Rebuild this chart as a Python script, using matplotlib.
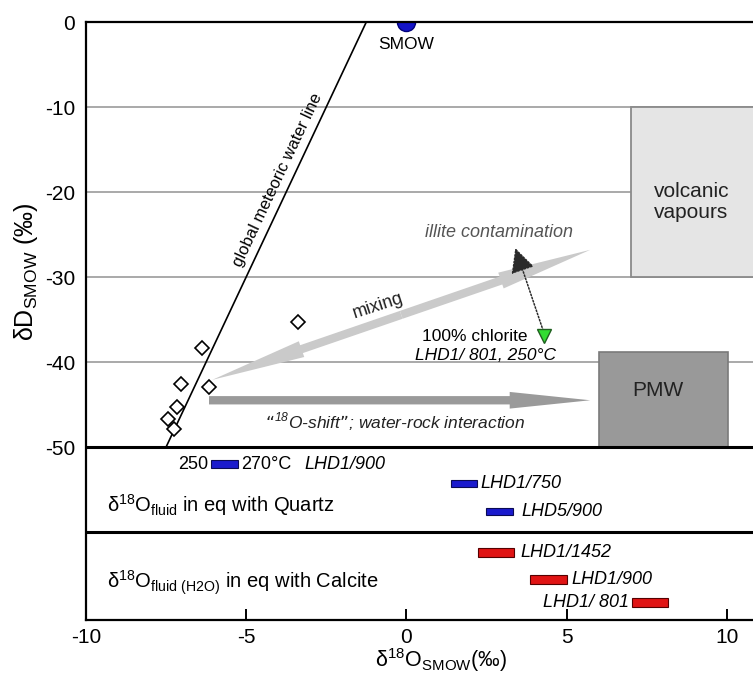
import numpy as np
import matplotlib
matplotlib.use("Agg")
import matplotlib.pyplot as plt
from matplotlib.patches import Rectangle, FancyArrowPatch
from matplotlib import font_manager

# fonts: Arial-like text, narrow face for the panel/axis labels if present
names = {f.name for f in font_manager.fontManager.ttflist}
NARROW = "Liberation Sans Narrow" if "Liberation Sans Narrow" in names else "Liberation Sans"
plt.rcParams["font.family"] = ["Liberation Sans", "DejaVu Sans"]
plt.rcParams["axes.unicode_minus"] = False

# ---- data ----
gmwl_x = [-7.5, -1.25]
gmwl_y = [-50, 0]

sample_x = [-3.37, -6.39, -7.03, -6.15, -7.15, -7.45, -7.25]
sample_y = [-35.3, -38.4, -42.6, -42.9, -45.3, -46.7, -47.9]

smow_x, smow_y = 0.0, 0.0
chlorite_x, chlorite_y = 4.30, -36.9
illite_tip = (3.40, -26.6)

mixing_start = (-6.06, -42.1)
mixing_end = (5.74, -26.8)
shift_start = (-6.16, -44.5)
shift_end = (5.74, -44.5)

volcanic_box = (7.0, -30.0, 4.5, 20.0)   # x, y, width, height
pmw_box = (6.0, -50.0, 4.05, 11.2)

quartz_lo = [-6.10, 1.39, 2.48]
quartz_hi = [-5.25, 2.21, 3.33]
quartz_y = [-52.0, -54.3, -57.6]
quartz_lab = ["LHD1/900", "LHD1/750", "LHD5/900"]

calcite_lo = [2.25, 3.86, 7.05]
calcite_hi = [3.36, 5.01, 8.16]
calcite_y = [-62.4, -65.6, -68.3]
calcite_lab = ["LHD1/1452", "LHD1/900", "LHD1/ 801"]

xticks = [-10, -5, 0, 5, 10]
yticks = [0, -10, -20, -30, -40, -50]

# ---- figure ----
fig = plt.figure(figsize=(7.53, 6.79), dpi=100)
ax = fig.add_axes([86 / 753, 59 / 679, 667 / 753, 598 / 679])
ax.set_xlim(-10, 10.82)
ax.set_ylim(-70.35, 0)

for s in ["left", "top", "bottom"]:
    ax.spines[s].set_linewidth(1.6)
ax.spines["right"].set_visible(False)

ax.set_xticks(xticks)
ax.set_yticks(yticks)
ax.tick_params(axis="x", direction="in", length=8, width=1.4, pad=6, labelsize=15)
ax.tick_params(axis="y", length=0, pad=8, labelsize=15)

# grid + panel separators
for g in yticks[1:-1]:
    ax.axhline(g, color="#a3a3a3", lw=1.3, zorder=0.5)
ax.axhline(-50, color="black", lw=2.2, zorder=3)
ax.axhline(-60, color="black", lw=2.2, zorder=3)

# boxes
vx, vy, vw, vh = volcanic_box
ax.add_patch(Rectangle((vx, vy), vw, vh, fc="#e5e5e5", ec="#8a8a8a", lw=1.3, zorder=1))
ax.text(vx + 1.9, vy + 8.8, "volcanic\nvapours", ha="center", va="center",
        fontsize=15, color="#222222", linespacing=1.1, zorder=2)
px, py, pw, ph = pmw_box
ax.add_patch(Rectangle((px, py), pw, ph, fc="#999999", ec="#7a7a7a", lw=1.2, zorder=1))
ax.text(px + 1.85, py + 6.6, "PMW", ha="center", va="center", fontsize=15,
        color="#222222", zorder=2)

# meteoric water line
ax.plot(gmwl_x, gmwl_y, color="black", lw=1.2, zorder=2)
p0 = ax.transData.transform((gmwl_x[0], gmwl_y[0]))
p1 = ax.transData.transform((gmwl_x[1], gmwl_y[1]))
ang = np.degrees(np.arctan2(p1[1] - p0[1], p1[0] - p0[0]))
ax.text(-4.02, -18.6, "global meteoric water line", rotation=ang, ha="center",
        va="center", fontsize=12, rotation_mode="anchor")

# mixing double arrow (two halves from the middle)
mid = ((mixing_start[0] + mixing_end[0]) / 2, (mixing_start[1] + mixing_end[1]) / 2)
for end in (mixing_start, mixing_end):
    ax.add_patch(FancyArrowPatch(mid, end, arrowstyle="simple,head_width=12,head_length=68,tail_width=6",
                                 mutation_scale=1, fc="#cacaca", ec="none", shrinkA=0, shrinkB=0, zorder=1.5))
ax.text(-0.87, -33.4, "mixing", rotation=18, ha="center", va="center", fontsize=13,
        color="#222222")

# 18O shift arrow
ax.add_patch(FancyArrowPatch(shift_start, shift_end,
                             arrowstyle="simple,head_width=12,head_length=58,tail_width=6",
                             mutation_scale=1, fc="#9a9a9a", ec="none", shrinkA=0, shrinkB=0, zorder=1.5))
ax.text(-0.34, -47.0, r"“$^{\mathregular{18}}$O-shift”; water-rock interaction", ha="center",
        va="center", fontsize=12.5, style="italic", color="#222222")

# samples
ax.plot(sample_x, sample_y, "D", ms=7.5, mfc="white", mec="black", mew=1.2, ls="none", zorder=4)

# SMOW
ax.plot(smow_x, smow_y, "o", ms=13, mfc="#1414c8", mec="#00007a", zorder=2.5, clip_on=True)
ax.text(smow_x, smow_y - 2.6, "SMOW", ha="center", va="center", fontsize=12.5)

# chlorite + illite contamination
ax.annotate("", xy=illite_tip, xytext=(chlorite_x - 0.03, chlorite_y + 0.6),
            arrowprops=dict(arrowstyle="-|>,head_length=0.5,head_width=0.25", ls=(0, (1, 1.2)),
                            lw=1.1, color="#2a2a2a", mutation_scale=30, shrinkA=0, shrinkB=0), zorder=4)
ax.plot(chlorite_x, chlorite_y, "v", ms=10, mfc="#33dd33", mec="#1f5f1f", mew=1, zorder=5)
ax.text(2.9, -24.8, "illite contamination", ha="center", va="center", fontsize=13,
        style="italic", color="#555555")
ax.text(2.15, -37.0, "100% chlorite", ha="center", va="center", fontsize=12.5)
ax.text(2.47, -39.2, "LHD1/ 801, 250°C", ha="center", va="center", fontsize=12.5, style="italic")

# quartz panel
ax.barh(quartz_y, np.subtract(quartz_hi, quartz_lo), left=quartz_lo, height=0.9,
        color="#1a1acd", edgecolor="#0a0a55", lw=0.8, zorder=4)
ax.text(quartz_lo[0] - 0.08, quartz_y[0], "250", ha="right", va="center", fontsize=13)
ax.text(quartz_hi[0] + 0.08, quartz_y[0], "270°C", ha="left", va="center", fontsize=13)
ax.text(-3.18, quartz_y[0], quartz_lab[0], ha="left", va="center", fontsize=13, style="italic")
ax.text(quartz_hi[1] + 0.1, quartz_y[1], quartz_lab[1], ha="left", va="center", fontsize=13, style="italic")
ax.text(quartz_hi[2] + 0.27, quartz_y[2], quartz_lab[2], ha="left", va="center", fontsize=13, style="italic")
ax.text(-9.33, -56.8, r"$\mathregular{\delta^{18}O_{fluid}}$ in eq with Quartz", ha="left",
        va="center", fontsize=14.5, family=NARROW)

# calcite panel
ax.barh(calcite_y, np.subtract(calcite_hi, calcite_lo), left=calcite_lo, height=1.0,
        color="#e01414", edgecolor="#550000", lw=0.8, zorder=4)
ax.text(calcite_hi[0] + 0.2, calcite_y[0], calcite_lab[0], ha="left", va="center", fontsize=13, style="italic")
ax.text(calcite_hi[1] + 0.15, calcite_y[1], calcite_lab[1], ha="left", va="center", fontsize=13, style="italic")
ax.text(calcite_lo[2] - 0.1, calcite_y[2], calcite_lab[2], ha="right", va="center", fontsize=13, style="italic")
ax.text(-9.33, -66.0, r"$\mathregular{\delta^{18}O_{fluid\ (H2O)}}$ in eq with Calcite", ha="left",
        va="center", fontsize=14.5, family=NARROW)

# axis labels
fig.text(441 / 753, 1 - 667 / 679, r"$\mathregular{\delta^{18}O_{SMOW}}$(‰)", ha="center",
         va="baseline", fontsize=15.5, family=NARROW)
fig.text(26 / 753, 1 - 272 / 679, r"$\mathregular{\delta D_{SMOW}}$ (‰)", rotation=90,
         ha="center", va="center", fontsize=18, family=NARROW)

fig.savefig("out.png", dpi=100)
